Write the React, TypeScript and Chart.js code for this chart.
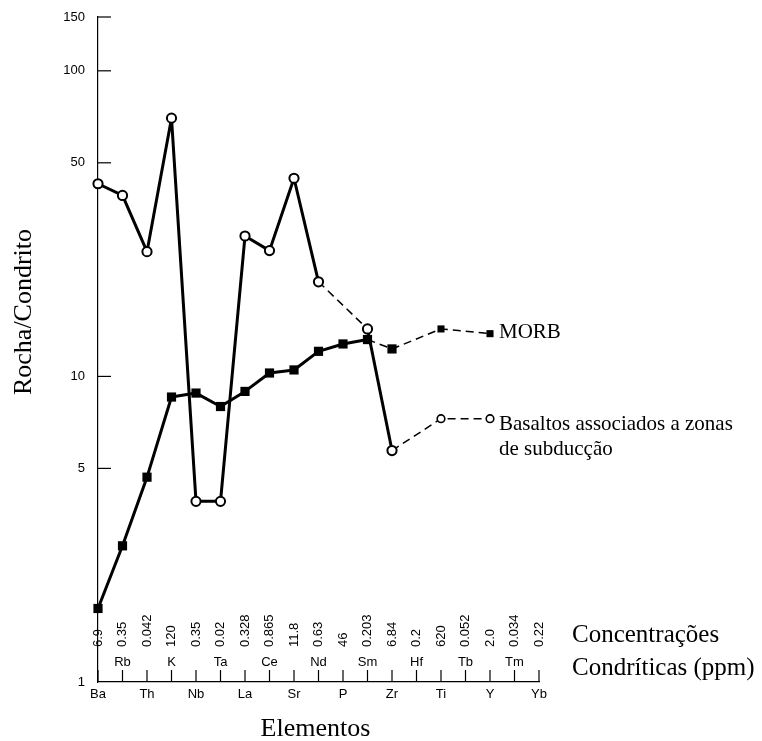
import { useEffect, useRef } from 'react';
import { Chart, registerables } from 'chart.js';

Chart.register(...registerables);

// ---- data ----
const elements = ['Ba', 'Rb', 'Th', 'K', 'Nb', 'Ta', 'La', 'Ce', 'Sr', 'Nd', 'P', 'Sm', 'Zr', 'Hf', 'Ti', 'Tb', 'Y', 'Tm', 'Yb'];
const chondriteConcentrations = ['6.9', '0.35', '0.042', '120', '0.35', '0.02', '0.328', '0.865', '11.8', '0.63', '46', '0.203', '6.84', '0.2', '620', '0.052', '2.0', '0.034', '0.22'];
const subductionBasalts = [42.7, 39.1, 25.6, 70.0, 3.9, 3.9, 28.8, 25.8, 44.5, 20.4, null, 14.3, 5.72, null, 7.27, null, 7.27, null, null];
const morb = [1.74, 2.79, 4.68, 8.56, 8.82, 7.97, 8.93, 10.26, 10.5, 12.08, 12.77, 13.2, 12.3, null, 14.3, null, 13.8, null, null];
const yTickValues = [1, 5, 10, 50, 100, 150];

const morbLabel = 'MORB';
const basaltLabel = ['Basaltos associados a zonas', 'de subducção'];
const concLabel = ['Concentrações', 'Condríticas (ppm)'];
const yTitle = 'Rocha/Condrito';
const xTitle = 'Elementos';

const SANS = '"Liberation Sans", Arial, Helvetica, sans-serif';
const SERIF = '"Liberation Serif", "Times New Roman", Times, serif';

const morbDashFrom = elements.indexOf('Sm');
const smallFrom = elements.indexOf('Ti');

const isDashed = (c: any) => {
  const arr = c.datasetIndex === 1 ? morb : subductionBasalts;
  const gap = arr[c.p0DataIndex] == null || arr[c.p1DataIndex] == null;
  if (c.datasetIndex === 1) return gap || c.p0DataIndex >= morbDashFrom;
  return gap;
};

const decorPlugin = {
  id: 'decor',
  afterDraw(chart: any) {
    const { ctx, chartArea, scales } = chart;
    const xs = scales.x;
    const ys = scales.y;
    ctx.save();
    ctx.strokeStyle = '#000';
    ctx.fillStyle = '#000';
    ctx.lineWidth = 1.2;
    const line = (x1: number, y1: number, x2: number, y2: number) => {
      ctx.beginPath();
      ctx.moveTo(x1, y1);
      ctx.lineTo(x2, y2);
      ctx.stroke();
    };
    // inward y ticks
    yTickValues.forEach((v) => {
      if (v === 1) return;
      const py = ys.getPixelForValue(v);
      line(chartArea.left, py, chartArea.left + 13, py);
    });
    // upward x ticks
    elements.forEach((_, i) => {
      const px = xs.getPixelForValue(i);
      line(px, chartArea.bottom, px, chartArea.bottom - 12);
    });
    // element names, alternating below / above the axis
    ctx.font = `13px ${SANS}`;
    ctx.textAlign = 'center';
    ctx.textBaseline = 'middle';
    elements.forEach((el, i) => {
      const px = xs.getPixelForValue(i);
      ctx.fillText(el, px, i % 2 === 0 ? chartArea.bottom + 12 : chartArea.bottom - 20);
    });
    // chondrite concentrations, rotated
    chondriteConcentrations.forEach((c, i) => {
      const px = xs.getPixelForValue(i);
      ctx.save();
      ctx.translate(px, chartArea.bottom - 35);
      ctx.rotate(-Math.PI / 2);
      ctx.textAlign = 'left';
      ctx.textBaseline = 'middle';
      ctx.fillText(c, 0, 0);
      ctx.restore();
    });

    // series labels next to last points
    const lastIdx = (arr: (number | null)[]) => {
      for (let i = arr.length - 1; i >= 0; i--) if (arr[i] != null) return i;
      return 0;
    };
    const mMeta = chart.getDatasetMeta(1);
    const bMeta = chart.getDatasetMeta(0);
    const mp = mMeta.data[lastIdx(morb)];
    const bp = bMeta.data[lastIdx(subductionBasalts)];
    ctx.font = `21px ${SERIF}`;
    ctx.textAlign = 'left';
    ctx.textBaseline = 'alphabetic';
    ctx.fillText(morbLabel, mp.x + 9, mp.y + 4);
    ctx.fillText(basaltLabel[0], bp.x + 9, bp.y + 11);
    ctx.fillText(basaltLabel[1], bp.x + 9, bp.y + 36);

    // concentration caption
    ctx.font = `25px ${SERIF}`;
    const capX = xs.getPixelForValue(elements.length - 1) + 33;
    ctx.fillText(concLabel[0], capX, chartArea.bottom - 40);
    ctx.fillText(concLabel[1], capX, chartArea.bottom - 7);

    // axis titles
    ctx.font = `26px ${SERIF}`;
    ctx.textAlign = 'center';
    ctx.fillText(xTitle, (chartArea.left + chartArea.right) / 2 - 3, 736);
    ctx.save();
    ctx.translate(31, 312);
    ctx.rotate(-Math.PI / 2);
    ctx.fillText(yTitle, 0, 0);
    ctx.restore();

    ctx.restore();
  },
};

export default function App() {
  const ref = useRef<HTMLCanvasElement | null>(null);
  useEffect(() => {
    if (!ref.current) return;
    const chart = new Chart(ref.current, {
      type: 'line',
      data: {
        labels: elements,
        datasets: [
          {
            label: basaltLabel.join(' '),
            data: subductionBasalts,
            spanGaps: true,
            clip: false as any,
            borderColor: '#000',
            borderWidth: 3,
            borderJoinStyle: 'round',
            pointStyle: 'circle',
            pointRadius: (c: any) => (c.dataIndex >= smallFrom ? 3.8 : 4.6),
            pointBorderWidth: (c: any) => (c.dataIndex >= smallFrom ? 1.6 : 2),
            pointBackgroundColor: '#fff',
            pointBorderColor: '#000',
            tension: 0,
            segment: {
              borderDash: (c: any) => (isDashed(c) ? [8, 5] : undefined),
              borderWidth: (c: any) => (isDashed(c) ? 1.5 : 3),
            },
          } as any,
          {
            label: morbLabel,
            data: morb,
            spanGaps: true,
            clip: false as any,
            borderColor: '#000',
            borderWidth: 3,
            borderJoinStyle: 'round',
            pointStyle: 'rect',
            pointRadius: (c: any) => (c.dataIndex >= smallFrom ? 5 : 6.5),
            pointBorderWidth: 0,
            pointBackgroundColor: '#000',
            pointBorderColor: '#000',
            tension: 0,
            segment: {
              borderDash: (c: any) => (isDashed(c) ? [8, 5] : undefined),
              borderWidth: (c: any) => (isDashed(c) ? 1.5 : 3),
            },
          } as any,
        ],
      },
      options: {
        responsive: false,
        animation: false,
        events: [],
        layout: { padding: { top: 17, left: 0, right: 223, bottom: 0 } },
        plugins: { legend: { display: false }, tooltip: { enabled: false } },
        scales: {
          x: {
            type: 'category',
            offset: false,
            grid: { display: false },
            border: { display: true, color: '#000', width: 1.2 },
            ticks: { display: false },
            afterFit: (s: any) => {
              s.height = 59;
            },
          },
          y: {
            type: 'logarithmic',
            min: 1,
            max: 150,
            afterBuildTicks: (s: any) => {
              s.ticks = yTickValues.map((v) => ({ value: v }));
            },
            afterFit: (s: any) => {
              s.width = 98;
            },
            grid: { display: false },
            border: { display: true, color: '#000', width: 1.2 },
            ticks: {
              autoSkip: false,
              color: '#000',
              padding: 5,
              font: { family: SANS, size: 13 },
              callback: (v: any) => String(v),
            },
          },
        },
      } as any,
      plugins: [decorPlugin],
    });
    return () => chart.destroy();
  }, []);
  return (
    <div style={{ position: 'fixed', left: 0, top: 0, width: 762, height: 741, background: '#fff' }}>
      <canvas ref={ref} width={762} height={741} />
    </div>
  );
}
